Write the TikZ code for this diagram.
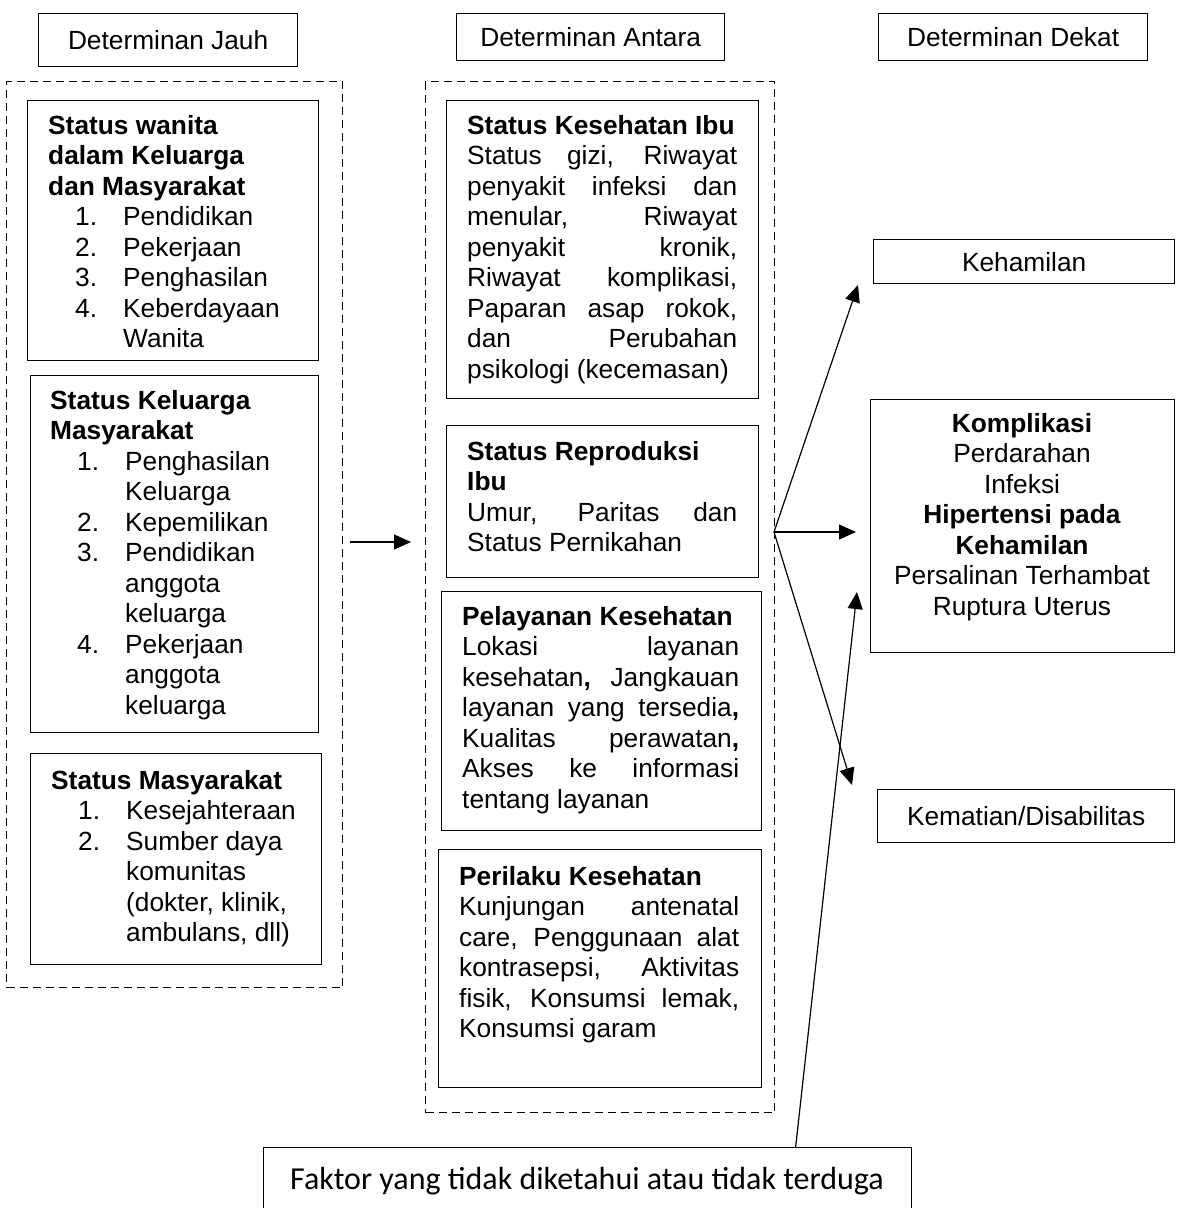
\documentclass[tikz,border=0pt]{standalone}
\usepackage{fontspec}
\setmainfont{Liberation Sans}
\newfontfamily\calibfont{Carlito}
\usetikzlibrary{arrows.meta}
\tolerance=10000
\hyphenpenalty=10000
\hbadness=10000

\newcommand{\itm}[2]{\hspace*{27pt}\makebox[48pt][l]{#1}#2}
\newcommand{\cnt}[1]{\hspace*{75pt}#1}

\tikzset{
	box/.style={draw=black, line width=1.3pt, inner sep=0pt, anchor=north west},
	dbox/.style={draw=black, line width=1pt, dash pattern=on 8pt off 5pt, inner sep=0pt, anchor=north west},
	txt/.style={inner sep=0pt, anchor=north west, align=left},
	jtxt/.style={inner sep=0pt, anchor=north west, align=justify, text width=#1},
	arr/.style={->, line width=1.2pt}
}

\begin{document}
\begin{tikzpicture}[x=1pt, y=-1pt, >={Triangle[length=17pt, width=15pt]}, every node/.style={font=\fontsize{26.3}{30.5}\selectfont}]

	\useasboundingbox (0,0) rectangle (1179,1208);

	% headers
	\node[box, minimum width=259pt, minimum height=53pt] (jauh) at (38,13) {Determinan Jauh};
	\node[box, minimum width=268pt, minimum height=47pt] (antara) at (456,13) {Determinan Antara};
	\node[box, minimum width=269pt, minimum height=47pt] (dekat) at (878,13) {Determinan Dekat};

	% --- determinan jauh ---
	\node[dbox, minimum width=336pt, minimum height=906pt] (jauhgrp) at (6,81) {};

	\node[box, minimum width=291pt, minimum height=260pt] (wanita) at (27,100) {};
	\node[txt] (wanitaT) at (48,112.6) {\strut\textbf{Status wanita}\\ \textbf{dalam Keluarga}\\ \textbf{dan Masyarakat}\\
		\itm{1.}{Pendidikan}\\ \itm{2.}{Pekerjaan}\\ \itm{3.}{Penghasilan}\\ \itm{4.}{Keberdayaan}\\ \cnt{Wanita}};

	\node[box, minimum width=288pt, minimum height=357pt] (keluarga) at (30,375) {};
	\node[txt] (keluargaT) at (50,387.6) {\strut\textbf{Status Keluarga}\\ \textbf{Masyarakat}\\
		\itm{1.}{Penghasilan}\\ \cnt{Keluarga}\\ \itm{2.}{Kepemilikan}\\ \itm{3.}{Pendidikan}\\ \cnt{anggota}\\ \cnt{keluarga}\\
		\itm{4.}{Pekerjaan}\\ \cnt{anggota}\\ \cnt{keluarga}};

	\node[box, minimum width=291pt, minimum height=211pt] (masyarakat) at (30,753) {};
	\node[txt] (masyarakatT) at (51,767.6) {\strut\textbf{Status Masyarakat}\\
		\itm{1.}{Kesejahteraan}\\ \itm{2.}{Sumber daya}\\ \cnt{komunitas}\\ \cnt{(dokter, klinik,}\\ \cnt{ambulans, dll)}};

	% --- determinan antara ---
	\node[dbox, minimum width=349pt, minimum height=1031pt] (antaragrp) at (425,81) {};

	\node[box, minimum width=312pt, minimum height=298pt] (kesehatan) at (446,100) {};
	\node[jtxt=270pt] (kesehatanT) at (467,112.6) {\strut\textbf{Status Kesehatan Ibu}\\
		Status gizi, Riwayat\linebreak penyakit infeksi dan\linebreak menular, Riwayat\linebreak penyakit kronik,\linebreak
		Riwayat komplikasi,\linebreak Paparan asap rokok,\linebreak dan Perubahan\linebreak psikologi (kecemasan)};

	\node[box, minimum width=312pt, minimum height=152pt] (reproduksi) at (446,425) {};
	\node[jtxt=270pt] (reproduksiT) at (467,438.6) {\strut\textbf{Status Reproduksi}\\ \textbf{Ibu}\\
		Umur, Paritas dan\linebreak Status Pernikahan};

	\node[box, minimum width=320pt, minimum height=239pt] (pelayanan) at (441,591) {};
	\node[jtxt=277pt] (pelayananT) at (462,603.6) {\strut\textbf{Pelayanan Kesehatan}\\
		Lokasi layanan\linebreak kesehatan\textbf{,} Jangkauan\linebreak layanan yang tersedia\textbf{,}\linebreak
		Kualitas perawatan\textbf{,}\linebreak Akses ke informasi\linebreak tentang layanan};

	\node[box, minimum width=323pt, minimum height=238pt] (perilaku) at (438,849) {};
	\node[jtxt=280pt] (perilakuT) at (459,863.6) {\strut\textbf{Perilaku Kesehatan}\\
		Kunjungan antenatal\linebreak care, Penggunaan alat\linebreak kontrasepsi, Aktivitas\linebreak
		fisik, Konsumsi lemak,\linebreak Konsumsi garam};

	% --- determinan dekat ---
	\node[box, minimum width=301pt, minimum height=44pt] (kehamilan) at (873,239) {Kehamilan};
	\node[box, minimum width=304pt, minimum height=253pt] (komplikasi) at (870,399) {};
	\node[inner sep=0pt, align=center, anchor=north] (komplikasiT) at (1022,410.6) {\strut\textbf{Komplikasi}\\ Perdarahan\\ Infeksi\\
		\textbf{Hipertensi pada}\\ \textbf{Kehamilan}\\ Persalinan Terhambat\\ Ruptura Uterus};
	\node[box, minimum width=297pt, minimum height=53pt] (kematian) at (877,789) {Kematian/Disabilitas};

	% unknown factors
	\node[box, minimum width=648pt, minimum height=75pt] (faktor) at (263,1147) {};
	\node[inner sep=0pt, anchor=base, font=\fontsize{32}{38}\calibfont] (faktorT) at (587,1189) {Faktor yang tidak diketahui atau tidak terduga};

	% arrows
	\coordinate (kiri) at (350,542);
	\coordinate (kanan) at (411,542);
	\coordinate (fork) at (774,532);
	\coordinate (tipK) at (858,285);
	\coordinate (tipM) at (856,532);
	\coordinate (tipD) at (852,785);
	\coordinate (tipF) at (857,592);

	\draw[arr] (kiri) -- (kanan);
	\draw[arr] (fork) -- (tipK);
	\draw[arr] (fork) -- (tipM);
	\draw[arr] (fork) -- (tipD);
	\draw[arr] ([xshift=208pt]faktor.north) -- (tipF);

\end{tikzpicture}
\end{document}
